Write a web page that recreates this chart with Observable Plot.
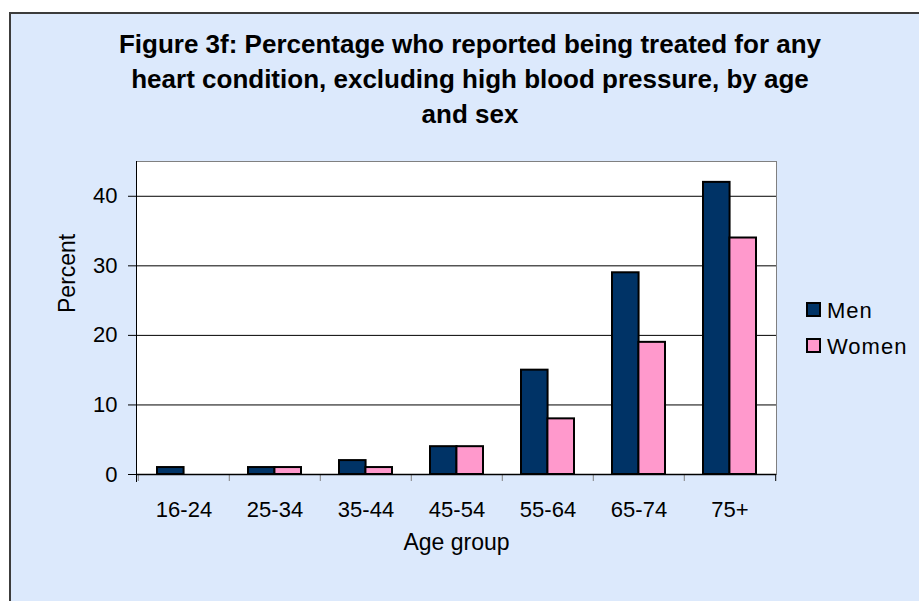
<!DOCTYPE html>
<html>
<head>
<meta charset="utf-8">
<script src="https://cdn.jsdelivr.net/npm/d3@7"></script>
<script src="https://cdn.jsdelivr.net/npm/@observablehq/plot@0.6"></script>
<style>
  html, body { margin: 0; padding: 0; background: #ffffff; }
  #wrap { position: relative; width: 919px; height: 601px; overflow: hidden; font-family: "Liberation Sans", Arial, sans-serif; }
  #panel { position: absolute; left: 9px; top: 12px; width: 940px; height: 620px; background: #dce9fc; border-left: 2px solid #3c3c3c; border-top: 2px solid #3c3c3c; }
  #title { position: absolute; left: 0; top: 27px; width: 940px; text-align: center; font-weight: bold; font-size: 26px; line-height: 35px; color: #000; }
  #chart { position: absolute; left: 0; top: 0; }
  .leg { position: absolute; left: 806px; font-size: 22px; letter-spacing: 1px; color: #000; line-height: 1; }
  .leg .sw { position: absolute; left: 0; width: 11px; height: 11px; border: 2px solid #000; }
  .leg .lab { position: absolute; left: 21px; white-space: nowrap; }
</style>
</head>
<body>
<div id="wrap">
  <div id="panel"></div>
  <div id="title">Figure 3f: Percentage who reported being treated for any<br>heart condition, excluding high blood pressure, by age<br>and sex</div>
  <div id="chart"></div>
  <div id="legend"></div>
</div>
<script>
const ages = ["16-24", "25-34", "35-44", "45-54", "55-64", "65-74", "75+"];
const men = [1, 1, 2, 4, 15, 29, 42];
const women = [0, 1, 1, 4, 8, 19, 34];
const series = ["Men", "Women"];
const colors = ["#003366", "#ff99cc"];
const yTicks = [0, 10, 20, 30, 40];

const data = [];
ages.forEach((a, i) => {
  data.push({age: a, sex: series[0], value: men[i]});
  data.push({age: a, sex: series[1], value: women[i]});
});

const W = 919, H = 601, mL = 136, mR = 143, mT = 161, mB = 127;
const bw = (W - mL - mR) / ages.length;
const barW = 27, outer = 19;

const chart = Plot.plot({
  width: W, height: H,
  marginLeft: mL, marginRight: mR, marginTop: mT, marginBottom: mB,
  style: {background: "transparent", fontFamily: "'Liberation Sans', Arial, sans-serif", fontSize: "22px", color: "#000"},
  x: {type: "band", domain: ages, padding: 0, label: null},
  y: {domain: [0, 45], label: null},
  color: {domain: series, range: colors},
  marks: [
    Plot.frame({fill: "white", stroke: "#808080"}),
    Plot.gridY(yTicks.filter(v => v > 0), {stroke: "#000", strokeOpacity: 1}),
    Plot.barY(data.filter(d => d.sex === series[0] && d.value > 0), {x: "age", y: "value", fill: "sex", stroke: "#000", strokeWidth: 2, insetLeft: outer, insetRight: bw - outer - barW}),
    Plot.barY(data.filter(d => d.sex === series[1] && d.value > 0), {x: "age", y: "value", fill: "sex", stroke: "#000", strokeWidth: 2, insetLeft: bw - outer - barW, insetRight: outer}),
    Plot.axisY({ticks: yTicks, tickSize: 8, tickPadding: 11, label: null, stroke: "#000", fontSize: 22}),
    Plot.axisX({tickSize: 0, tickPadding: 27, label: null, fontSize: 22}),
    Plot.axisX({tickSize: 7, tickFormat: () => "", dx: -bw / 2, stroke: "#808080", label: null}),
    Plot.axisX({ticks: [ages[ages.length - 1]], tickSize: 7, tickFormat: () => "", dx: bw / 2, stroke: "#000", label: null}),
    Plot.ruleY([0], {stroke: "#000", strokeWidth: 1.5}),
    Plot.frame({anchor: "left", stroke: "#000", insetBottom: -7}),
    Plot.text(["Age group"], {frameAnchor: "bottom", dy: 75, fontSize: 23}),
    Plot.text(["Percent"], {frameAnchor: "left", rotate: -90, dx: -69, dy: -5, fontSize: 23})
  ]
});
document.getElementById("chart").appendChild(chart);

const legend = document.getElementById("legend");
series.forEach((s, i) => {
  const top = 300 + i * 36;
  const row = document.createElement("div");
  row.className = "leg";
  row.style.top = top + "px";
  row.innerHTML = `<span class="sw" style="top:2px;background:${colors[i]}"></span><span class="lab">${s}</span>`;
  legend.appendChild(row);
});
</script>
</body>
</html>
